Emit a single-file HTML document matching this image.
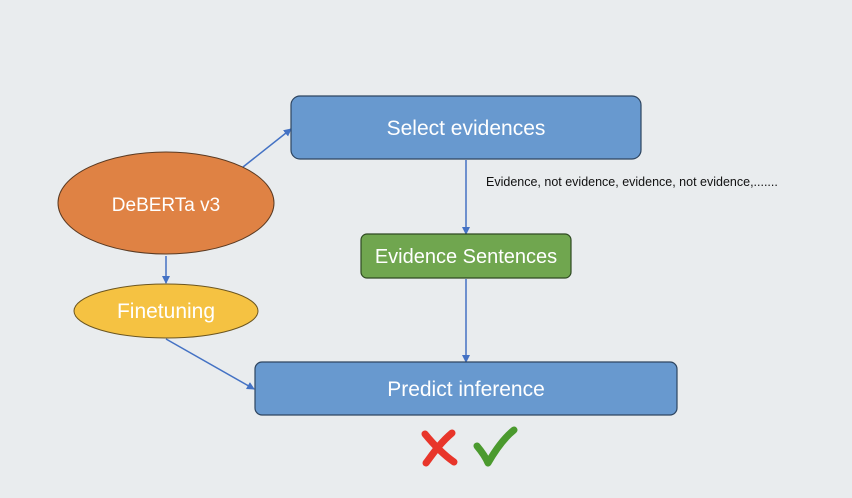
<!DOCTYPE html>
<html><head><style>
html,body{margin:0;padding:0;background:#e9ecee;}
svg{display:block;font-family:"Liberation Sans",sans-serif;}
</style></head><body>
<svg width="852" height="498" viewBox="0 0 852 498">
<defs><marker id="a" markerWidth="8" markerHeight="8" refX="7" refY="4" orient="auto" markerUnits="userSpaceOnUse"><path d="M0,0 L8,4 L0,8 z" fill="#4472c4"/></marker></defs>
<rect width="852" height="498" fill="#e9ecee"/>
<g stroke="#4472c4" stroke-width="1.5" fill="none" marker-end="url(#a)">
<line x1="243" y1="167" x2="291" y2="129"/>
<line x1="166" y1="256" x2="166" y2="283"/>
<line x1="166" y1="339" x2="254" y2="389"/>
<line x1="466" y1="160" x2="466" y2="234"/>
<line x1="466" y1="279" x2="466" y2="362"/>
</g>
<ellipse cx="166" cy="203" rx="108" ry="51" fill="#df8244" stroke="#5a3a22" stroke-width="1"/>
<text x="166" y="211" fill="#fff" font-size="19" text-anchor="middle">DeBERTa v3</text>
<ellipse cx="166" cy="311" rx="92" ry="27" fill="#f5c242" stroke="#6b5520" stroke-width="1"/>
<text x="166" y="318" fill="#fff" font-size="21" text-anchor="middle">Finetuning</text>
<rect x="291" y="96" width="350" height="63" rx="9" fill="#6899cf" stroke="#2e4560" stroke-width="1.2"/>
<text x="466" y="135" fill="#fff" font-size="21" text-anchor="middle">Select evidences</text>
<rect x="361" y="234" width="210" height="44" rx="6" fill="#70a64f" stroke="#2f4a22" stroke-width="1.2"/>
<text x="466" y="263" fill="#fff" font-size="20" text-anchor="middle">Evidence Sentences</text>
<rect x="255" y="362" width="422" height="53" rx="7" fill="#6899cf" stroke="#2e4560" stroke-width="1.2"/>
<text x="466" y="396" fill="#fff" font-size="21" text-anchor="middle">Predict inference</text>
<text x="486" y="186" fill="#111" font-size="12.5">Evidence, not evidence, evidence, not evidence,.......</text>
<g stroke-linecap="round" fill="none">
<path d="M452,433 C440,443 432,455 426,463" stroke="#e8352a" stroke-width="7"/>
<path d="M425,434 C434,445 444,455 454,462" stroke="#e8352a" stroke-width="7"/>
<path d="M477,446 C482,452 486,458 488,463 C496,449 504,438 514,430" stroke="#4b9a2e" stroke-width="7" stroke-linejoin="round"/>
</g>
</svg>
</body></html>
